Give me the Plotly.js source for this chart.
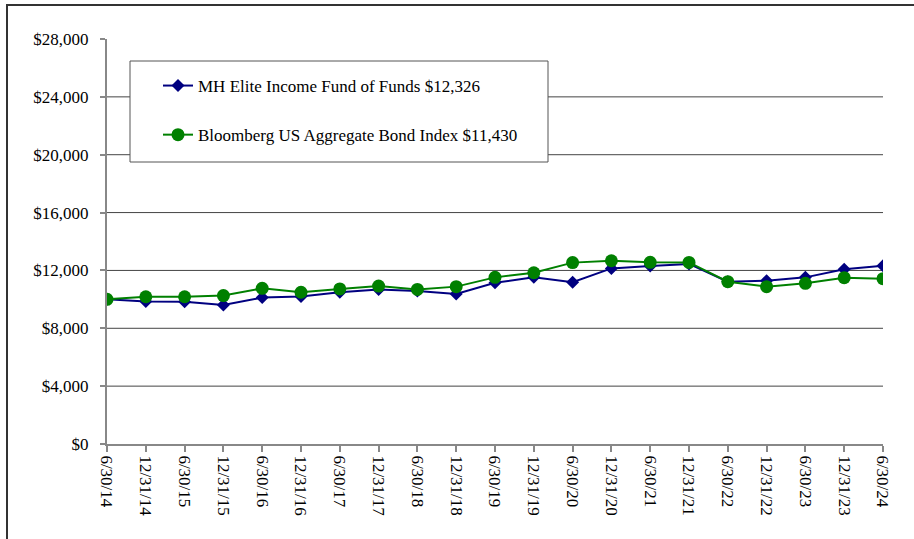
<!DOCTYPE html>
<html>
<head>
<meta charset="utf-8">
<script src="https://cdn.plot.ly/plotly-3.0.1.min.js"></script>
<style>
  html, body { margin: 0; padding: 0; background: #fff; }
  #wrap { position: relative; width: 914px; height: 539px; }
  #chart { position: absolute; left: 0; top: 0; width: 914px; height: 539px; }
  #frame { position: absolute; left: 6px; top: 4px; width: 906px; height: 535px;
           border-left: 2px solid #333; border-top: 2px solid #333; pointer-events: none; }
</style>
</head>
<body>
<div id="wrap">
  <div id="chart"></div>
  <div id="frame"></div>
</div>
<script>
const dates = ["6/30/14","12/31/14","6/30/15","12/31/15","6/30/16","12/31/16","6/30/17",
  "12/31/17","6/30/18","12/31/18","6/30/19","12/31/19","6/30/20","12/31/20","6/30/21",
  "12/31/21","6/30/22","12/31/22","6/30/23","12/31/23","6/30/24"];
const fundName = "MH Elite Income Fund of Funds $12,326";
const fundValues = [10000, 9850, 9840, 9610, 10120, 10190, 10490, 10690, 10580, 10370,
  11150, 11520, 11180, 12140, 12310, 12450, 11220, 11290, 11520, 12080, 12326];
const indexName = "Bloomberg US Aggregate Bond Index $11,430";
const indexValues = [10000, 10180, 10180, 10260, 10760, 10490, 10720, 10920, 10690, 10880,
  11520, 11840, 12540, 12670, 12560, 12550, 11220, 10880, 11110, 11500, 11430];
const yTicks = [0, 4000, 8000, 12000, 16000, 20000, 24000, 28000];
const yTickText = ["$0","$4,000","$8,000","$12,000","$16,000","$20,000","$24,000","$28,000"];
const gridValues = [4000, 8000, 12000, 16000, 20000, 24000];

const font = "Liberation Serif, Times New Roman, serif";

const traces = [
  { x: dates, y: fundValues, name: fundName, type: "scatter", mode: "lines+markers",
    legendgroup: "a",
    line: { color: "#000080", width: 2 },
    marker: { symbol: "diamond", size: 10, color: "#000080" } },
  { x: dates, y: indexValues, name: indexName, type: "scatter", mode: "lines+markers",
    legendgroup: "b",
    line: { color: "#008000", width: 2 },
    marker: { symbol: "circle", size: 13, color: "#008000" } }
];

const shapes = gridValues.map(v => ({
  type: "line", xref: "paper", yref: "y", x0: 0, x1: 1, y0: v, y1: v,
  line: { color: "#444", width: 1 }, layer: "below"
}));
shapes.push({
  type: "rect", xref: "paper", yref: "paper",
  x0: (130 - 107) / 776, x1: (548 - 107) / 776,
  y0: (444 - 162) / 405, y1: (444 - 61) / 405,
  fillcolor: "#fff", line: { color: "#555", width: 1 }, layer: "above"
});

const layout = {
  width: 914, height: 539,
  margin: { l: 107, r: 31, t: 39, b: 95 },
  paper_bgcolor: "#fff", plot_bgcolor: "#fff",
  font: { family: font, size: 17, color: "#000" },
  showlegend: true,
  legend: {
    x: (158 - 107) / 776, xanchor: "left",
    y: (444 - 68) / 405, yanchor: "top",
    bgcolor: "rgba(0,0,0,0)", borderwidth: 0,
    font: { family: font, size: 17, color: "#000" },
    tracegroupgap: 24
  },
  xaxis: {
    type: "category", range: [0, 20],
    showgrid: false, zeroline: false,
    showline: true, linecolor: "#888", linewidth: 2,
    ticks: "outside", ticklen: 6, tickcolor: "#888", tickwidth: 2,
    tickangle: 90, tickfont: { family: font, size: 17, color: "#000" },
    fixedrange: true
  },
  yaxis: {
    range: [0, 28000], tickvals: yTicks, ticktext: yTickText,
    showgrid: false, zeroline: false,
    showline: true, linecolor: "#888", linewidth: 2,
    ticks: "outside", ticklen: 5, tickcolor: "#888", tickwidth: 2,
    ticklabelstandoff: 8,
    tickfont: { family: font, size: 17, color: "#000" },
    fixedrange: true
  },
  shapes: shapes
};

Plotly.newPlot("chart", traces, layout, { displayModeBar: false, staticPlot: true });
</script>
</body>
</html>
